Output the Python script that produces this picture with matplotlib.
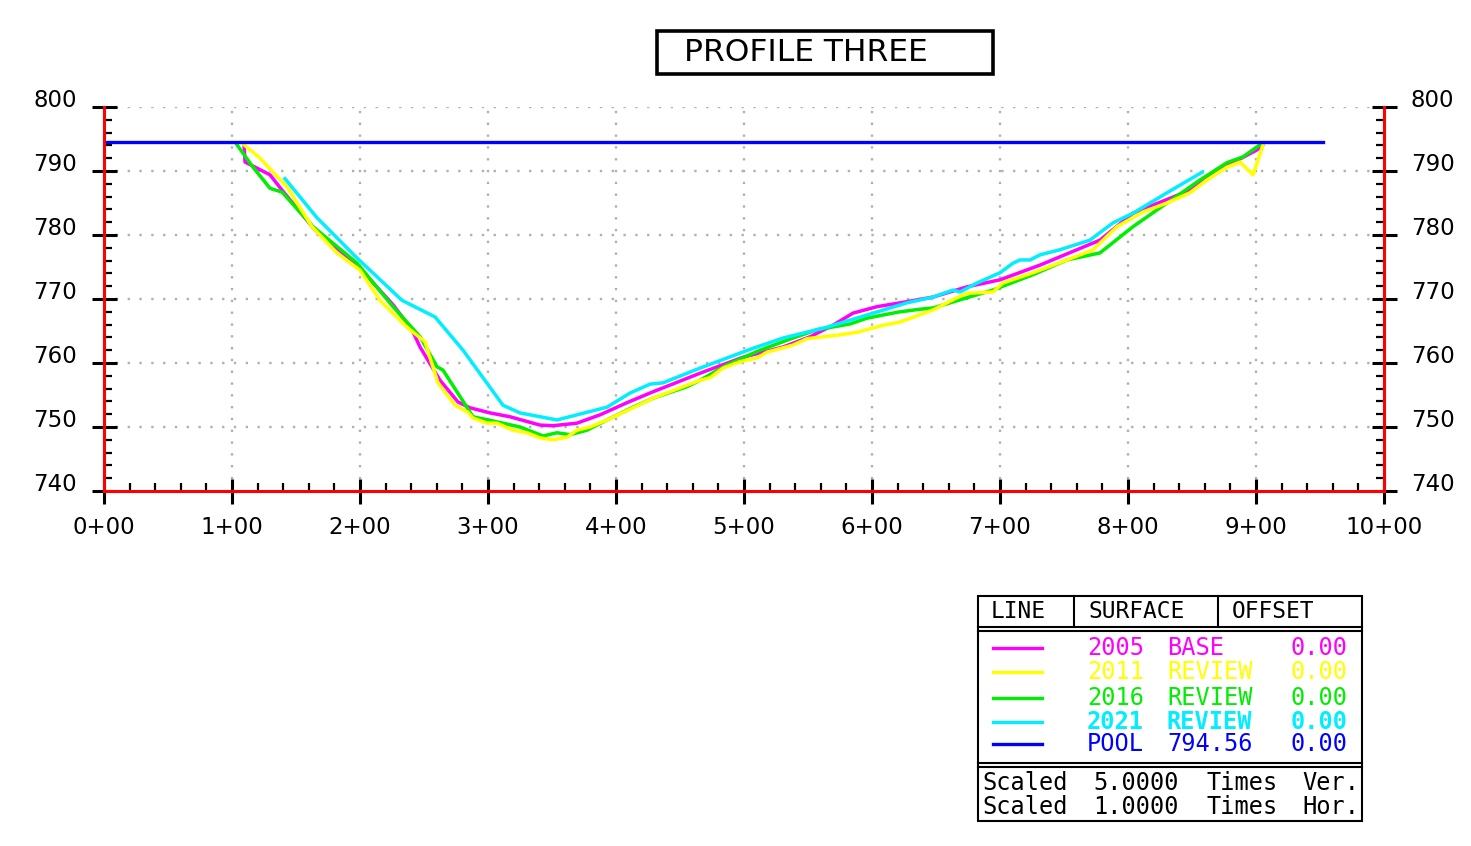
import matplotlib
matplotlib.use("Agg")
import matplotlib.pyplot as plt
from matplotlib.patches import Rectangle
from matplotlib.ticker import MultipleLocator

# ---- survey data: station (ft) and elevation (ft) ----
base_2005_sta = [109.4, 110.2, 129.7, 139.1, 164.8, 197.7, 225.8, 240.6, 246.9, 262.5,
                 276.6, 285.9, 301.6, 317.2, 340.6, 350.8, 369.5, 387.5, 408.6, 428.9,
                 465.6, 499.2, 530.5, 551.6, 569.5, 585.2, 603.9, 621.9, 647.7, 674.2,
                 700.0, 731.3, 778.1, 803.9, 848.4, 869.5, 882.0, 900.8, 905.5]
base_2005_elev = [794.1, 791.4, 789.4, 787.0, 780.8, 775.3, 769.1, 765.2, 762.5, 757.3,
                  753.9, 753.0, 752.2, 751.6, 750.3, 750.2, 750.6, 751.9, 753.8, 755.5,
                  758.4, 760.9, 762.5, 764.1, 765.9, 767.8, 768.8, 769.4, 770.3, 771.9,
                  773.0, 775.3, 779.2, 783.4, 787.0, 790.2, 791.3, 793.3, 794.1]

review_2011_sta = [109.4, 121.9, 143.0, 162.5, 182.0, 200.0, 215.6, 236.7, 250.8, 260.9,
                   274.2, 284.4, 288.3, 299.2, 307.0, 319.5, 330.5, 340.6, 350.8, 361.7,
                   369.5, 379.7, 393.0, 413.3, 428.9, 465.6, 473.4, 483.6, 496.9, 510.2,
                   518.0, 538.3, 549.2, 575.0, 588.3, 608.6, 621.9, 647.7, 666.4, 674.2,
                   694.5, 702.3, 725.8, 752.3, 772.7, 791.4, 811.7, 830.5, 848.4, 861.7,
                   877.3, 887.5, 897.7, 905.5]
review_2011_elev = [794.1, 792.0, 787.5, 781.3, 777.2, 774.5, 769.8, 765.6, 763.3, 756.9,
                    753.4, 752.3, 751.4, 750.6, 750.6, 749.5, 749.1, 748.3, 748.0, 748.4,
                    749.5, 750.0, 751.1, 753.0, 754.5, 757.3, 757.7, 759.2, 760.2, 760.8,
                    761.7, 762.8, 763.8, 764.4, 764.8, 765.9, 766.4, 768.3, 770.2, 770.9,
                    771.1, 772.5, 774.1, 776.1, 777.7, 781.3, 783.6, 785.0, 786.6, 788.6,
                    790.6, 791.4, 789.4, 794.1]

review_2016_sta = [103.9, 116.4, 129.7, 139.1, 163.3, 197.7, 225.8, 246.9, 260.2, 264.8,
                   288.3, 311.7, 325.0, 343.0, 353.9, 364.1, 377.3, 393.0, 413.3, 428.9,
                   455.5, 465.6, 486.7, 512.5, 538.3, 557.0, 582.8, 596.1, 608.6, 621.9,
                   637.5, 647.7, 674.2, 694.5, 725.8, 752.3, 778.1, 803.9, 856.3, 877.3,
                   889.8, 903.1]
review_2016_elev = [794.1, 790.6, 787.3, 786.7, 781.3, 775.6, 768.8, 764.1, 759.4, 758.9,
                    751.6, 750.6, 750.0, 748.6, 749.1, 748.8, 749.5, 751.1, 753.1, 754.5,
                    756.3, 757.3, 759.7, 762.0, 763.9, 765.2, 766.1, 767.0, 767.5, 768.0,
                    768.4, 768.6, 770.2, 771.4, 773.8, 776.1, 777.2, 781.3, 788.6, 791.3,
                    792.2, 794.1]

review_2021_sta = [141.4, 166.4, 197.7, 232.8, 258.6, 280.5, 311.7, 325.0, 353.9, 369.5,
                   393.0, 410.9, 426.6, 436.7, 465.6, 507.0, 530.5, 564.8, 596.1, 627.3,
                   647.7, 663.3, 668.8, 682.0, 700.0, 710.2, 715.6, 723.4, 731.3, 746.9,
                   770.3, 788.3, 803.9, 830.5, 857.8]
review_2021_elev = [788.8, 782.7, 776.4, 769.8, 767.2, 762.0, 753.4, 752.2, 751.1, 751.9,
                    753.1, 755.3, 756.7, 756.9, 759.2, 762.3, 763.9, 765.6, 767.5, 769.4,
                    770.3, 771.4, 771.1, 772.5, 774.1, 775.6, 776.1, 776.1, 776.9, 777.7,
                    779.2, 781.9, 783.4, 786.6, 789.8]

pool_elev = 794.56
pool_sta = [0.0, 952.0]

x_ticks = list(range(0, 1001, 100))
y_ticks = list(range(740, 801, 10))

legend_names = ["2005", "2011", "2016", "2021", "POOL"]
legend_surfaces = ["BASE", "REVIEW", "REVIEW", "REVIEW", "794.56"]
legend_offsets = ["0.00", "0.00", "0.00", "0.00", "0.00"]

MAGENTA = "#ff00ff"
YELLOW = "#ffff00"
GREEN = "#00ee00"
CYAN = "#00eeff"
BLUE = "#0000ff"
RED = "#ff0000"
GRID = "#b0b0b0"

W, H = 1471, 846
fig = plt.figure(figsize=(W / 100, H / 100), dpi=100)
fig.patch.set_facecolor("white")

# main profile axes (pixel box 104..1384 x 107..491)
ax = fig.add_axes([104 / W, 1 - 491 / H, 1280 / W, 384 / H])
ax.set_xlim(0, 1000)
ax.set_ylim(740, 800)
ax.set_facecolor("white")

# dotted grid
for v in x_ticks[1:-1]:
    ax.plot([v, v], [740, 800], color=GRID, lw=1.7, ls=(0, (1, 4)), zorder=1)
for v in y_ticks[1:]:
    ax.plot([0, 1000], [v, v], color=GRID, lw=1.7, ls=(0, (1, 4)), zorder=1)

lw = 2.5
ax.plot(base_2005_sta, base_2005_elev, color=MAGENTA, lw=lw, zorder=3)
ax.plot(review_2016_sta, review_2016_elev, color=GREEN, lw=lw, zorder=4)
ax.plot(review_2011_sta, review_2011_elev, color=YELLOW, lw=lw, zorder=5)
ax.plot(review_2021_sta, review_2021_elev, color=CYAN, lw=lw, zorder=6)
ax.plot(pool_sta, [pool_elev, pool_elev], color=BLUE, lw=2.4, zorder=7)

# axis frame
for side in ("left", "right", "bottom"):
    ax.spines[side].set_color(RED)
    ax.spines[side].set_linewidth(2.2)
    ax.spines[side].set_zorder(8)
ax.spines["top"].set_visible(False)

ax.set_xticks(x_ticks)
ax.set_yticks(y_ticks)
ax.xaxis.set_minor_locator(MultipleLocator(20))
ax.yaxis.set_minor_locator(MultipleLocator(2))
ax.tick_params(axis="y", which="both", left=True, right=True,
               labelleft=False, labelright=False)
ax.tick_params(axis="x", which="both", bottom=True, top=False, labelbottom=False)
ax.tick_params(which="major", direction="inout", length=18, width=2.2, color="black")
ax.tick_params(which="minor", direction="in", length=5.5, width=1.6, color="black")
for t in ax.xaxis.get_major_ticks() + ax.yaxis.get_major_ticks():
    t.tick1line.set_zorder(9)
    t.tick2line.set_zorder(9)

tick_font = dict(family="DejaVu Sans", fontsize=16.5, color="black")
for v in y_ticks:
    ax.annotate(str(v), xy=(0, v), xytext=(-27, 7), textcoords="offset pixels",
                ha="right", va="center", annotation_clip=False, **tick_font)
    ax.annotate(str(v), xy=(1000, v), xytext=(27, 7), textcoords="offset pixels",
                ha="left", va="center", annotation_clip=False, **tick_font)
for v in x_ticks:
    ax.annotate(f"{v // 100}+{v % 100:02d}", xy=(v, 740), xytext=(0, -36),
                textcoords="offset pixels", ha="center", va="center",
                annotation_clip=False, **tick_font)

# overlay in pixel units for the title block and the legend table
ov = fig.add_axes([0, 0, 1, 1], facecolor="none")
ov.set_xlim(0, W)
ov.set_ylim(H, 0)
ov.axis("off")

ov.add_patch(Rectangle((657, 31), 336, 43, fill=False, ec="black", lw=2.6))
ov.text(806, 52.5, "PROFILE THREE", ha="center", va="center",
        family="DejaVu Sans", fontsize=22.5, color="black")

# legend table
tl = 1.5
ov.add_patch(Rectangle((978, 596), 384, 225, fill=False, ec="black", lw=tl))
ov.plot([978, 1362], [627, 627], color="black", lw=tl)
ov.plot([978, 1362], [631, 631], color="black", lw=tl)
ov.plot([978, 1362], [763, 763], color="black", lw=tl)
ov.plot([978, 1362], [767, 767], color="black", lw=tl)
ov.plot([1074, 1074], [596, 627], color="black", lw=tl)
ov.plot([1218, 1218], [596, 627], color="black", lw=tl)

hdr = dict(family="DejaVu Sans Mono", fontsize=16.5, color="black", va="center")
ov.text(991, 612, "LINE", ha="left", **hdr)
ov.text(1089, 612, "SURFACE", ha="left", **hdr)
ov.text(1232, 612, "OFFSET", ha="left", **hdr)

row_colors = [MAGENTA, YELLOW, GREEN, CYAN, BLUE]
row_y = [648, 672, 698, 722, 744]
for i, (name, surf, off, c, y) in enumerate(zip(legend_names, legend_surfaces,
                                                 legend_offsets, row_colors, row_y)):
    weight = "bold" if i == 3 else "normal"
    ov.plot([993, 1042], [y, y], color=c, lw=2.4)
    st = dict(family="DejaVu Sans Mono", fontsize=17, color=c, va="center",
              fontweight=weight)
    ov.text(1087, y, name, ha="left", **st)
    ov.text(1167, y, surf, ha="left", **st)
    ov.text(1348, y, off, ha="right", **st)

sc = dict(family="DejaVu Sans Mono", fontsize=17, color="black", va="center")
for y, factor, word in [(783, "5.0000", "Ver."), (807, "1.0000", "Hor.")]:
    ov.text(982, y, "Scaled", ha="left", **sc)
    ov.text(1093, y, factor, ha="left", **sc)
    ov.text(1207, y, "Times", ha="left", **sc)
    ov.text(1359, y, word, ha="right", **sc)

fig.savefig("out.png", dpi=100)
